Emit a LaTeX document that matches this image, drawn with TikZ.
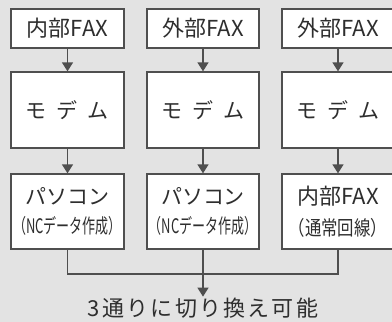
\documentclass[tikz,border=0pt]{standalone}
\usepackage{fontspec}
\usetikzlibrary{arrows.meta}
\newfontfamily\jp{Noto Sans CJK JP}
\definecolor{bgc}{HTML}{E3E3E3}
\definecolor{ln}{HTML}{4F4F4F}
\definecolor{tx}{HTML}{2E2E2E}
\tikzset{
  box/.style={draw=ln,line width=1.3pt,fill=white,inner sep=0pt,text=tx,font=\jp,align=center},
  conn/.style={draw=ln,line width=1.3pt},
  arr/.style={conn,-{Triangle[length=9pt,width=11pt]}},
}
\begin{document}
\begin{tikzpicture}[x=1pt,y=-1pt]
\useasboundingbox (0,0) rectangle (392,322);
\fill[bgc] (0,0) rectangle (392,322);
\clip (0,0) rectangle (392,322);
% top row
\node[box,minimum width=113pt,minimum height=39pt,font=\jp\fontsize{22}{26}\selectfont] (t1) at (67.5,28.5) {内部FAX};
\node[box,minimum width=112pt,minimum height=39pt,font=\jp\fontsize{22}{26}\selectfont] (t2) at (203,28.5) {外部FAX};
\node[box,minimum width=112pt,minimum height=39pt,font=\jp\fontsize{22}{26}\selectfont] (t3) at (338,28.5) {外部FAX};
% modem row
\node[box,minimum width=113pt,minimum height=76pt,font=\jp\fontsize{21}{24}\selectfont] (m1) at (67.5,110) {{\spaceskip=10pt モ デ ム}};
\node[box,minimum width=112pt,minimum height=76pt,font=\jp\fontsize{21}{24}\selectfont] (m2) at (203,110) {{\spaceskip=10pt モ デ ム}};
\node[box,minimum width=112pt,minimum height=76pt,font=\jp\fontsize{21}{24}\selectfont] (m3) at (338,110) {{\spaceskip=10pt モ デ ム}};
% bottom row
\node[box,minimum width=113pt,minimum height=75pt] (b1) at (67.5,211.5)
  {\fontsize{21}{24}\selectfont パソコン\\[11pt]\fontsize{20}{24}\selectfont\scalebox{0.65}[1]{（NCデータ作成）}};
\node[box,minimum width=112pt,minimum height=75pt] (b2) at (203,211.5)
  {\fontsize{21}{24}\selectfont パソコン\\[11pt]\fontsize{20}{24}\selectfont\scalebox{0.65}[1]{（NCデータ作成）}};
\node[box,minimum width=112pt,minimum height=75pt] (b3) at (338,211.5)
  {\fontsize{22}{24}\selectfont 内部FAX\\[11pt]\fontsize{20}{24}\selectfont\scalebox{0.82}[1]{（通常回線）}};
% result text
\node[text=tx,font=\jp\fontsize{22}{24}\selectfont\addfontfeatures{LetterSpace=10},inner sep=1pt] (res) at (203,308) {3通りに切り換え可能};
\coordinate (j) at (203,274);
% connectors
\draw[arr] (t1) -- (m1);
\draw[arr] (t2) -- (m2);
\draw[arr] (t3) -- (m3);
\draw[arr] (m1) -- (b1);
\draw[arr] (m2) -- (b2);
\draw[arr] (m3) -- (b3);
\draw[conn] (b1.south) |- (j);
\draw[conn] (b3.south) |- (j);
\draw[conn] (b2.south) -- (j);
\draw[arr] (j) -- (res.north);
\end{tikzpicture}
\end{document}
